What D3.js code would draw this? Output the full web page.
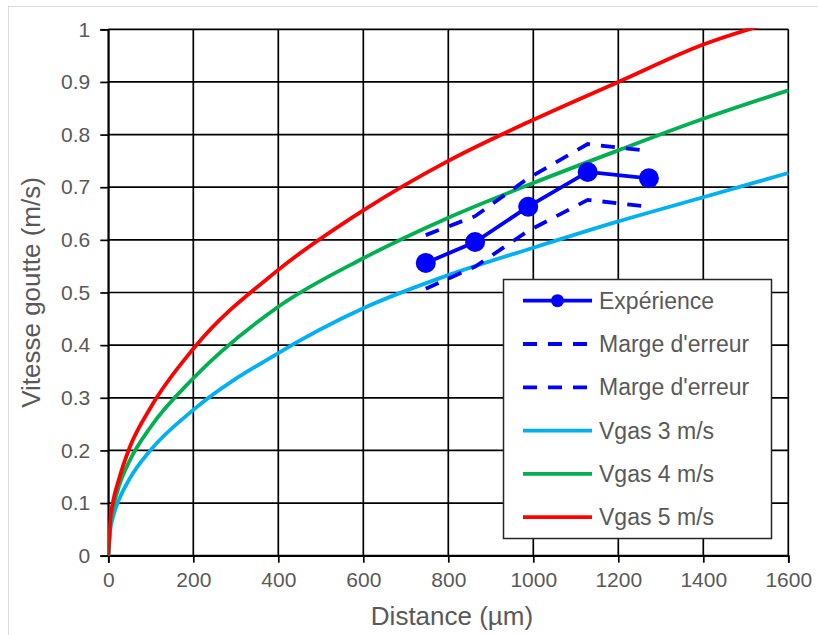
<!DOCTYPE html>
<html>
<head>
<meta charset="utf-8">
<script src="https://cdn.jsdelivr.net/npm/d3@7"></script>
<style>
  html, body { margin: 0; padding: 0; background: #fff; }
  svg { display: block; }
  text { font-family: "Liberation Sans", Arial, sans-serif; fill: #595959; }
</style>
</head>
<body>
<svg id="chart" width="818" height="635"></svg>
<script>
// ---- Data ----
const xTicks = [0, 200, 400, 600, 800, 1000, 1200, 1400, 1600];
const yTicks = [0, 0.1, 0.2, 0.3, 0.4, 0.5, 0.6, 0.7, 0.8, 0.9, 1];

const expX     = [747, 863, 988, 1128, 1272];
const expY     = [0.556, 0.596, 0.663, 0.729, 0.717];
const upperY   = [0.609, 0.645, 0.717, 0.782, 0.769];
const lowerY   = [0.507, 0.549, 0.617, 0.676, 0.663];

const curveX   = [0, 5, 10, 25, 50, 100, 200, 400, 600, 800, 1000, 1200, 1400, 1600];
const gas3Y    = [0, 0.051, 0.070, 0.106, 0.146, 0.201, 0.277, 0.385, 0.470, 0.533, 0.585, 0.635, 0.681, 0.727];
const gas4Y    = [0, 0.062, 0.086, 0.132, 0.180, 0.245, 0.337, 0.473, 0.565, 0.642, 0.708, 0.770, 0.830, 0.884];
const gas5Y    = [0, 0.072, 0.098, 0.145, 0.205, 0.282, 0.393, 0.543, 0.656, 0.750, 0.828, 0.900, 0.971, 1.022];

const seriesNames = ["Expérience", "Marge d'erreur", "Marge d'erreur", "Vgas 3 m/s", "Vgas 4 m/s", "Vgas 5 m/s"];
const colors = { exp: "#0000FF", gas3: "#00B0F0", gas4: "#00B050", gas5: "#FF0000" };

// ---- Layout ----
const svg = d3.select("#chart");
const L = 108.3, R = 788.3, T = 29.3, B = 555.7;

// chart-area frame (light gray)
svg.append("rect").attr("x", 8.5).attr("y", 6.5).attr("width", 830).attr("height", 650)
  .attr("fill", "none").attr("stroke", "#d9d9d9").attr("stroke-width", 1);

const x = d3.scaleLinear().domain([0, 1600]).range([L, R]);
const y = d3.scaleLinear().domain([0, 1]).range([B, T]);

// gridlines
const grid = svg.append("g");
grid.selectAll(".gx").data(xTicks).join("line")
  .attr("x1", d => x(d)).attr("x2", d => x(d)).attr("y1", T).attr("y2", B)
  .attr("stroke", "#000").attr("stroke-width", 1.7);
grid.selectAll(".gy").data(yTicks).join("line")
  .attr("x1", L).attr("x2", R).attr("y1", d => y(d)).attr("y2", d => y(d))
  .attr("stroke", "#000").attr("stroke-width", 1.7);

// axes
const xAxis = svg.append("g").attr("transform", `translate(0,${B})`)
  .call(d3.axisBottom(x).tickValues(xTicks).tickSize(7).tickPadding(9).tickFormat(d3.format("d")));
const yAxis = svg.append("g").attr("transform", `translate(${L},0)`)
  .call(d3.axisLeft(y).tickValues(yTicks).tickSize(8).tickPadding(10).tickFormat(d => d === 0 || d === 1 ? String(d) : d3.format(".1f")(d)));
[xAxis, yAxis].forEach(g => {
  g.selectAll(".domain").attr("stroke", "#000").attr("stroke-width", 1.7);
  g.selectAll(".tick line").attr("stroke", "#000").attr("stroke-width", 1.7);
  g.selectAll(".tick text").attr("font-size", 21).attr("fill", "#595959")
    .style("font-family", '"Liberation Sans", Arial, sans-serif');
});

// axis titles
svg.append("text").attr("x", 452).attr("y", 625).attr("text-anchor", "middle")
  .attr("font-size", 26).text("Distance (µm)");
svg.append("text").attr("transform", `translate(40,${(T + B) / 2}) rotate(-90)`)
  .attr("text-anchor", "middle").attr("font-size", 26).text("Vitesse goutte (m/s)");

// clip
svg.append("clipPath").attr("id", "clip").append("rect")
  .attr("x", L).attr("y", T - 1).attr("width", R - L + 2).attr("height", B - T + 2);
const plot = svg.append("g").attr("clip-path", "url(#clip)");

const line = d3.line().x(d => x(d[0])).y(d => y(d[1]));
const smooth = d3.line().x(d => x(d[0])).y(d => y(d[1])).curve(d3.curveMonotoneX);

const gasSeries = [
  { ys: gas3Y, c: colors.gas3 },
  { ys: gas4Y, c: colors.gas4 },
  { ys: gas5Y, c: colors.gas5 }
];
gasSeries.forEach(s => {
  plot.append("path").datum(curveX.map((v, i) => [v, s.ys[i]]))
    .attr("d", smooth).attr("fill", "none").attr("stroke", s.c).attr("stroke-width", 3.8);
});

[upperY, lowerY].forEach(ys => {
  plot.append("path").datum(expX.map((v, i) => [v, ys[i]]))
    .attr("d", line).attr("fill", "none").attr("stroke", colors.exp)
    .attr("stroke-width", 3.8).attr("stroke-dasharray", "14,11");
});

plot.append("path").datum(expX.map((v, i) => [v, expY[i]]))
  .attr("d", line).attr("fill", "none").attr("stroke", colors.exp).attr("stroke-width", 3.8);
plot.selectAll(".pt").data(expX.map((v, i) => [v, expY[i]])).join("circle")
  .attr("cx", d => x(d[0])).attr("cy", d => y(d[1])).attr("r", 10).attr("fill", colors.exp);

// legend
const lg = svg.append("g");
lg.append("rect").attr("x", 503.5).attr("y", 279.5).attr("width", 268).attr("height", 259)
  .attr("fill", "#fff").attr("stroke", "#262626").attr("stroke-width", 1.5);
const legendItems = [
  { name: seriesNames[0], c: colors.exp, dash: null, marker: true },
  { name: seriesNames[1], c: colors.exp, dash: "14,11", marker: false },
  { name: seriesNames[2], c: colors.exp, dash: "14,11", marker: false },
  { name: seriesNames[3], c: colors.gas3, dash: null, marker: false },
  { name: seriesNames[4], c: colors.gas4, dash: null, marker: false },
  { name: seriesNames[5], c: colors.gas5, dash: null, marker: false }
];
legendItems.forEach((it, i) => {
  const yy = 300.7 + i * 43.3;
  lg.append("line").attr("x1", 523).attr("x2", 592).attr("y1", yy).attr("y2", yy)
    .attr("stroke", it.c).attr("stroke-width", 3.8)
    .attr("stroke-dasharray", it.dash);
  if (it.marker) lg.append("circle").attr("cx", 557.5).attr("cy", yy).attr("r", 6.5).attr("fill", it.c);
  lg.append("text").attr("x", 599).attr("y", yy).attr("dy", "0.35em")
    .attr("font-size", 23).text(it.name);
});
</script>
</body>
</html>
